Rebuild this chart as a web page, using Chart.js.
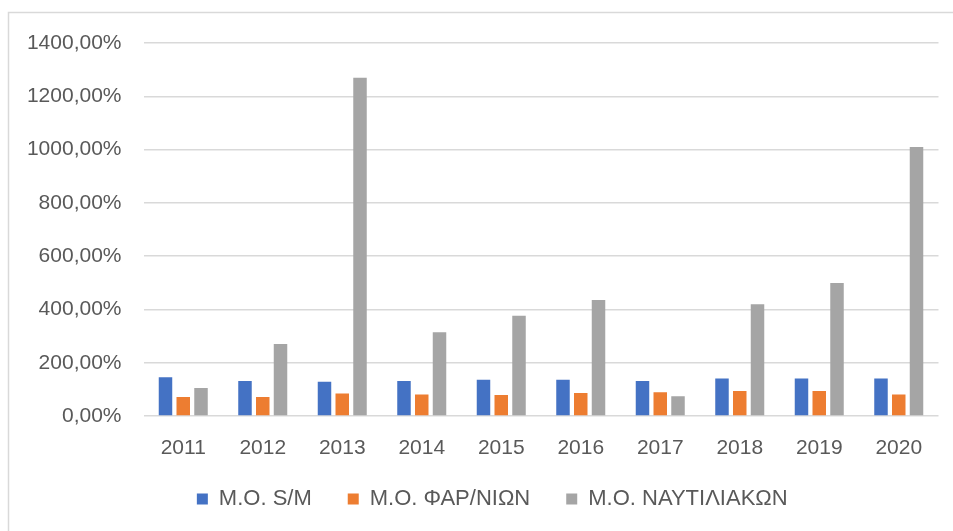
<!DOCTYPE html>
<html>
<head>
<meta charset="utf-8">
<script src="https://cdn.jsdelivr.net/npm/chart.js@4"></script>
<style>
  html, body { margin: 0; padding: 0; background: #ffffff; }
  canvas { display: block; }
</style>
</head>
<body>
<canvas id="chart" width="953" height="531"></canvas>
<script>
// Years on the category axis
const years = ['2011', '2012', '2013', '2014', '2015', '2016', '2017', '2018', '2019', '2020'];

// Average values per sector (percent)
const avgSM = [145, 131, 129, 131, 136, 136, 131, 141, 141, 141];
const avgPharma = [71, 71, 84, 81, 79, 86, 89, 94, 94, 81];
const avgShipping = [105, 270, 1270, 314, 376, 435, 74, 419, 499, 1010];

// Series names
const seriesNames = ['Μ.Ο. S/M', 'Μ.Ο. ΦΑΡ/ΝΙΩΝ', 'Μ.Ο. ΝΑΥΤΙΛΙΑΚΩΝ'];

// Value axis ticks
const yMin = 0;
const yMax = 1400;
const yStep = 200;

const textColor = '#595959';
const gridColor = '#d9d9d9';
const fontFamily = '"Liberation Sans", Arial, sans-serif';

// Light frame along the top and left edges of the chart
const framePlugin = {
  id: 'frame',
  beforeDraw(chart) {
    const ctx = chart.ctx;
    ctx.save();
    ctx.strokeStyle = gridColor;
    ctx.lineWidth = 1.5;
    ctx.beginPath();
    ctx.moveTo(8.5, chart.height);
    ctx.lineTo(8.5, 12.5);
    ctx.lineTo(chart.width, 12.5);
    ctx.stroke();
    ctx.restore();
  }
};

// Centre the legend under the plot and pull it a little closer to the axis
const legendShiftPlugin = {
  id: 'legendShift',
  afterLayout(chart) {
    const lg = chart.legend;
    if (lg) {
      lg.left += 23;
      lg.right += 23;
      lg.top -= 11;
      lg.bottom -= 11;
    }
  }
};

new Chart(document.getElementById('chart'), {
  type: 'bar',
  data: {
    labels: years,
    datasets: [
      { label: seriesNames[0], data: avgSM, backgroundColor: '#4472C4' },
      { label: seriesNames[1], data: avgPharma, backgroundColor: '#ED7D31' },
      { label: seriesNames[2], data: avgShipping, backgroundColor: '#A5A5A5' }
    ]
  },
  options: {
    responsive: false,
    animation: false,
    devicePixelRatio: 1,
    layout: { padding: { top: 43, right: 14.5, bottom: 0, left: 0 } },
    datasets: {
      bar: { categoryPercentage: 0.67, barPercentage: 0.76 }
    },
    scales: {
      x: {
        grid: { display: false, drawTicks: false },
        border: { display: false },
        ticks: {
          color: textColor,
          padding: 20,
          font: { family: fontFamily, size: 21 }
        },
        afterFit(scale) { scale.height = 47; }
      },
      y: {
        min: yMin,
        max: yMax,
        grid: { color: gridColor, lineWidth: 1.5, drawTicks: false },
        border: { display: false },
        ticks: {
          stepSize: yStep,
          color: textColor,
          padding: 22,
          font: { family: fontFamily, size: 21 },
          callback: (v) => v.toFixed(2).replace('.', ',') + '%'
        },
        afterFit(scale) { scale.width = 143.5; }
      }
    },
    plugins: {
      tooltip: { enabled: false },
      legend: {
        position: 'bottom',
        labels: {
          color: textColor,
          boxWidth: 11,
          boxHeight: 11,
          padding: 36,
          font: { family: fontFamily, size: 22 }
        }
      }
    }
  },
  plugins: [framePlugin, legendShiftPlugin]
});
</script>
</body>
</html>
